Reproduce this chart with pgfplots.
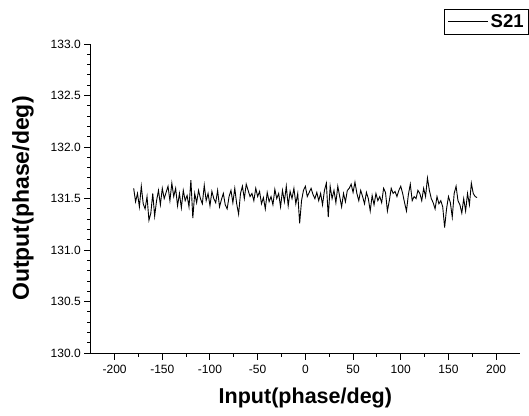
\documentclass[border=0pt]{standalone}
\usepackage{fontspec}
\setmainfont{Liberation Sans}
\usepackage{pgfplots}
\pgfplotsset{compat=1.18}
\usetikzlibrary{calc}

\begin{document}
\begin{tikzpicture}
\begin{axis}[
  scale only axis, width=429pt, height=309pt,
  xmin=-225, xmax=225, ymin=130, ymax=133,
  axis lines*=left, axis line style={line width=1.1pt},
  xtick={-200,-150,...,200}, ytick={130,130.5,...,133},
  minor x tick num=1, minor y tick num=4,
  tick align=outside, tick style={line width=1pt, black},
  major tick length=6.5pt, minor tick length=3.5pt,
  ticklabel style={font=\fontsize{12}{14}\selectfont},
  /pgf/number format/assume math mode=true,
  yticklabel style={/pgf/number format/.cd, fixed, fixed zerofill, precision=1},
  xticklabel style={yshift=-2pt, /pgf/number format/.cd, fixed, precision=0},
  xlabel={\textbf{Input(phase/deg)}}, ylabel={\textbf{Output(phase/deg)}},
  xlabel style={font=\fontsize{21.5}{24}\selectfont, yshift=-7pt},
  ylabel style={font=\fontsize{23}{26}\selectfont, yshift=10pt},
  legend style={at={(1.021,1.113)}, anchor=north east, draw=black, line width=0.8pt,
    font=\fontsize{18.5}{20}\selectfont\bfseries, inner sep=3pt, row sep=0pt},
  legend image code/.code={\draw[#1, line width=0.8pt] (0pt,0pt) -- (40pt,0pt);},
]
\addplot[black, line width=0.9pt] coordinates {
(-180,131.60) (-178,131.47) (-176,131.55) (-174,131.42) (-172,131.62) (-170,131.45)
(-168,131.40) (-166,131.52) (-164,131.29) (-162,131.36) (-160,131.55) (-158,131.33)
(-156,131.48) (-154,131.58) (-152,131.44) (-150,131.60) (-148,131.50) (-146,131.56)
(-144,131.62) (-142,131.48) (-140,131.65) (-138,131.52) (-136,131.60) (-134,131.43)
(-132,131.55) (-130,131.41) (-128,131.58) (-126,131.48) (-124,131.53) (-122,131.42)
(-120,131.68) (-118,131.31) (-116,131.55) (-114,131.46) (-112,131.58) (-110,131.50)
(-108,131.45) (-106,131.63) (-104,131.48) (-102,131.55) (-100,131.43) (-98,131.57)
(-96,131.50) (-94,131.46) (-92,131.58) (-90,131.42) (-88,131.49) (-86,131.55)
(-84,131.44) (-82,131.40) (-80,131.52) (-78,131.58) (-76,131.46) (-74,131.60)
(-72,131.45) (-70,131.35) (-68,131.55) (-66,131.62) (-64,131.50) (-62,131.64)
(-60,131.58) (-58,131.52) (-56,131.55) (-54,131.48) (-52,131.60) (-50,131.52)
(-48,131.57) (-46,131.45) (-44,131.51) (-42,131.40) (-40,131.56) (-38,131.47)
(-36,131.52) (-34,131.44) (-32,131.59) (-30,131.50) (-28,131.55) (-26,131.42)
(-24,131.58) (-22,131.47) (-20,131.62) (-18,131.43) (-16,131.57) (-14,131.50)
(-12,131.60) (-10,131.45) (-8,131.55) (-6,131.26) (-4,131.48) (-2,131.58)
(0,131.62) (2,131.52) (4,131.56) (6,131.60) (8,131.54) (10,131.50)
(12,131.56) (14,131.48) (16,131.55) (18,131.44) (20,131.58) (22,131.65)
(24,131.32) (26,131.62) (28,131.50) (30,131.58) (32,131.46) (34,131.62)
(36,131.52) (38,131.42) (40,131.55) (42,131.47) (44,131.58) (46,131.60)
(48,131.64) (50,131.56) (52,131.66) (54,131.55) (56,131.48) (58,131.58)
(60,131.52) (62,131.45) (64,131.56) (66,131.50) (68,131.38) (70,131.53)
(72,131.44) (74,131.55) (76,131.48) (78,131.52) (80,131.46) (82,131.60)
(84,131.56) (86,131.38) (88,131.48) (90,131.60) (92,131.55) (94,131.57)
(96,131.52) (98,131.58) (100,131.62) (102,131.55) (104,131.46) (106,131.38)
(108,131.54) (110,131.64) (112,131.48) (114,131.52) (116,131.50) (118,131.58)
(120,131.55) (122,131.48) (124,131.60) (126,131.52) (128,131.70) (130,131.58)
(132,131.50) (134,131.46) (136,131.40) (138,131.52) (140,131.45) (142,131.48)
(144,131.42) (146,131.22) (148,131.40) (150,131.52) (152,131.46) (154,131.32)
(156,131.55) (158,131.62) (160,131.48) (162,131.44) (164,131.36) (166,131.50)
(168,131.38) (170,131.55) (172,131.44) (174,131.65) (176,131.55) (178,131.52)
(180,131.51)
};
\addlegendentry{S21}
\coordinate (bl) at (rel axis cs:0,0);
\coordinate (tr) at (rel axis cs:1,1);
\end{axis}
\path ($(bl)+(-90.7pt,-62pt)$) rectangle ($(tr)+(9pt,44pt)$);
\end{tikzpicture}
\end{document}
